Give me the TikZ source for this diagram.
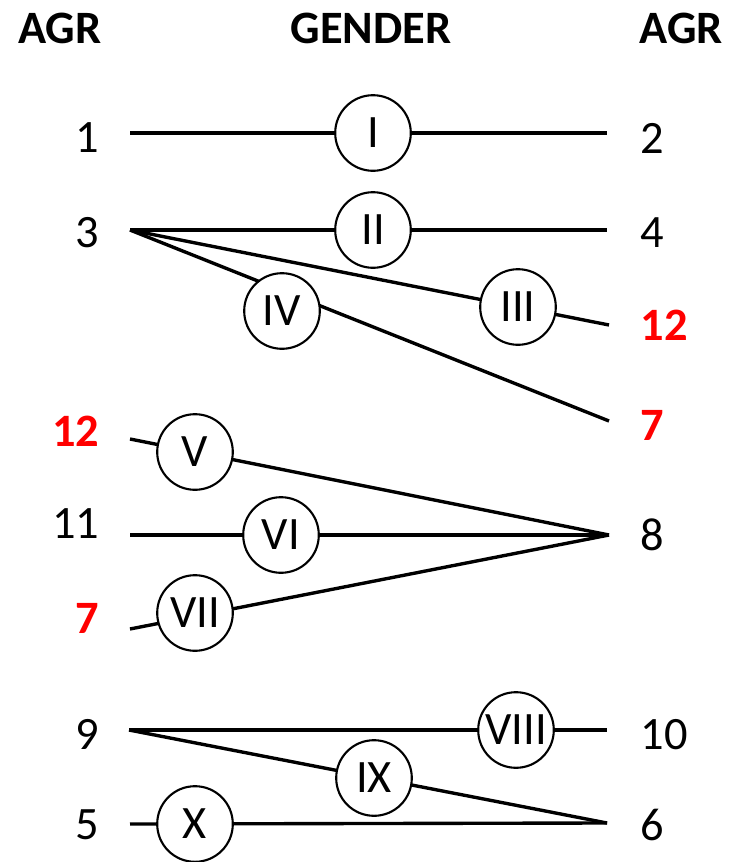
\documentclass[tikz,border=0pt]{standalone}
\usepackage{fontspec}
\setmainfont{Carlito}
\usepackage{xcolor}
\usetikzlibrary{positioning}

\begin{document}
\begin{tikzpicture}[x=0.025cm, y=-0.025cm, line width=2.4pt,
                agr node/.style={inner sep=0pt, text depth=0pt, font=\fontsize{33}{40}\selectfont},
                new node/.style={agr node, text=red, font=\fontsize{33}{40}\selectfont\bfseries},
                head node/.style={agr node, font=\fontsize{33}{40}\selectfont\bfseries},
                main node/.style={circle, draw, fill=white, line width=1.5pt, inner sep=0pt,
                  minimum size=1.89cm, font=\fontsize{33}{40}\selectfont}]

  \useasboundingbox (0,0) rectangle (736,862);

  % headings
  \node[head node, anchor=east] (agrl) at (103,28) {AGR};
  \node[head node] (gender) at (371,28) {GENDER};
  \node[head node, anchor=west] (agrr) at (638,28) {AGR};

  % agreement classes, left
  \node[agr node, anchor=east] (1) at (101,138) {1};
  \node[agr node, anchor=east] (3) at (101,232) {3};
  \node[new node, anchor=east] (12l) at (101,431) {12};
  \node[agr node, anchor=east] (11) at (101,524) {11};
  \node[new node, anchor=east] (7l) at (101,618) {7};
  \node[agr node, anchor=east] (9) at (101,734) {9};
  \node[agr node, anchor=east] (5) at (101,825) {5};

  % agreement classes, right
  \node[agr node, anchor=west] (2) at (639,138) {2};
  \node[agr node, anchor=west] (4) at (639,233) {4};
  \node[new node, anchor=west] (12r) at (639,325) {12};
  \node[new node, anchor=west] (7r) at (639,425) {7};
  \node[agr node, anchor=west] (8) at (639,535) {8};
  \node[agr node, anchor=west] (10) at (639,734) {10};
  \node[agr node, anchor=west] (6) at (639,825) {6};

  % line ends
  \coordinate (1a) at (130,133);  \coordinate (2a) at (607,133);
  \coordinate (3a) at (130,230);  \coordinate (4a) at (607,230);
  \coordinate (12b) at (609,325); \coordinate (7b) at (609,421);
  \coordinate (12a) at (130,439); \coordinate (11a) at (130,535);
  \coordinate (7a) at (130,629);  \coordinate (8a) at (609,535);
  \coordinate (9a) at (129,730);  \coordinate (10a) at (607,730);
  \coordinate (5a) at (130,824);  \coordinate (6a) at (607,823);

  \path[draw]
    (1a) edge (2a)
    (3a) edge (4a)
    (3a) edge (12b)
    (3a) edge (7b)
    (12a) edge (8a)
    (11a) edge (8a)
    (7a) edge (8a)
    (9a) edge (10a)
    (9a) edge (6a)
    (5a) edge (6a);

  % genders
  \node[main node] (I) at (373,133) {I};
  \node[main node] (II) at (373,230) {II};
  \node[main node] (III) at (518,307) {III};
  \node[main node] (IV) at (282,311) {IV};
  \node[main node] (V) at (195,452) {V};
  \node[main node] (VI) at (281,535) {VI};
  \node[main node] (VII) at (195,613) {VII};
  \node[main node] (VIII) at (516,730) {VIII};
  \node[main node] (IX) at (374,778) {IX};
  \node[main node] (X) at (195,824) {X};
\end{tikzpicture}
\end{document}
